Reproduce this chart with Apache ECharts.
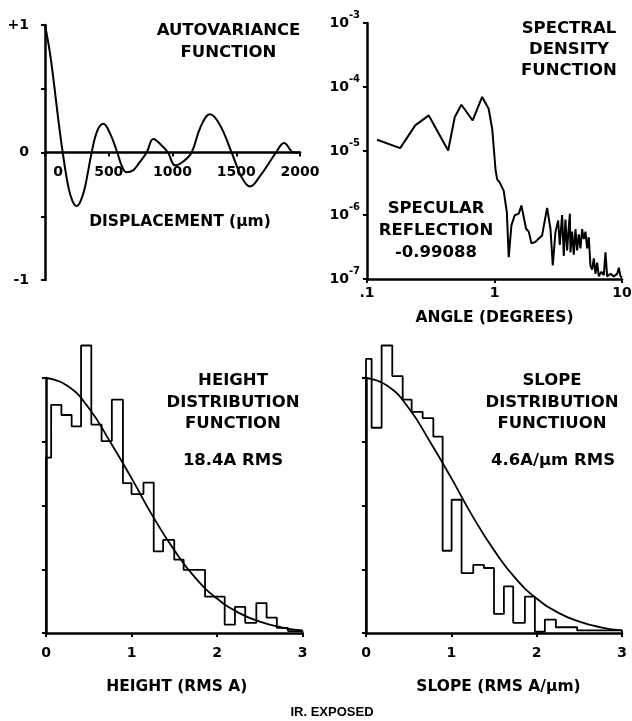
<!DOCTYPE html>
<html><head><meta charset="utf-8">
<script src="https://cdn.jsdelivr.net/npm/echarts/dist/echarts.min.js"></script>
<style>html,body{margin:0;padding:0;background:#fff}#c{width:632px;height:721px}</style>
</head><body><div id="c"></div>
<script>
// ---- Autovariance function ----
const dispX = [0, 39, 73, 104, 139, 183, 215, 248, 280, 314, 366, 410, 458, 510, 567, 600, 640, 690, 740, 797, 850, 910, 965, 1020, 1085, 1150, 1220, 1294, 1370, 1464, 1540, 1608, 1690, 1812, 1875, 1953, 2000];
const autoY = [1.0, 0.78, 0.52, 0.26, 0, -0.27, -0.38, -0.42, -0.38, -0.27, 0, 0.17, 0.225, 0.15, 0, -0.1, -0.155, -0.14, -0.08, 0, 0.105, 0.06, 0, -0.1, -0.07, 0, 0.2, 0.30, 0.22, 0, -0.19, -0.267, -0.18, 0, 0.074, 0, 0];
const autoYTicks = [-1, 0, 1];

// ---- Spectral density function ----
const specAngle = [0.120, 0.182, 0.239, 0.305, 0.433, 0.488, 0.55, 0.674, 0.80, 0.90, 0.96, 1.02, 1.05, 1.10, 1.18, 1.25, 1.293, 1.357, 1.441, 1.55, 1.626, 1.769, 1.857, 1.948, 2.094, 2.225, 2.362, 2.586, 2.747, 2.865, 3.006, 3.155, 3.251, 3.391, 3.494, 3.601, 3.711, 3.825, 3.90, 3.942, 4.062, 4.187, 4.315, 4.447, 4.584, 4.724, 4.868, 5.016, 5.170, 5.328, 5.490, 5.658, 5.832, 6.010, 6.194, 6.384, 6.579, 6.904, 7.201, 7.421, 7.648, 8.123, 8.628, 9.165, 9.443, 9.732, 10.0];
const specDensity = [1.50e-5, 1.11e-5, 2.51e-5, 3.6e-5, 1.02e-5, 3.39e-5, 5.28e-5, 3.0e-5, 6.98e-5, 4.58e-5, 2.2e-5, 5.0e-6, 3.6e-6, 3.2e-6, 2.4e-6, 1.1e-6, 2.2e-7, 6.9e-7, 9.9e-7, 1.05e-6, 1.41e-6, 6.1e-7, 5.5e-7, 3.6e-7, 3.8e-7, 4.3e-7, 4.8e-7, 1.29e-6, 6.1e-7, 1.63e-7, 5.4e-7, 8.2e-7, 3.4e-7, 1.0e-6, 2.3e-7, 8.5e-7, 2.8e-7, 6.5e-7, 1.05e-6, 2.6e-7, 5.5e-7, 2.4e-7, 6.0e-7, 2.8e-7, 5.0e-7, 3.0e-7, 6.0e-7, 4.2e-7, 5.5e-7, 3.0e-7, 4.5e-7, 1.6e-7, 1.4e-7, 2.1e-7, 1.2e-7, 1.8e-7, 1.1e-7, 1.3e-7, 1.15e-7, 2.6e-7, 1.1e-7, 1.2e-7, 1.1e-7, 1.2e-7, 1.5e-7, 1.1e-7, 1.05e-7];

// ---- Distribution functions (fitted curve) ----
const gaussX = [0, 0.25, 0.5, 0.75, 1.0, 1.25, 1.5, 1.75, 2.0, 2.25, 2.5, 2.75, 3.0];
const gaussY = [4.0, 3.88, 3.53, 3.0, 2.43, 1.83, 1.30, 0.86, 0.54, 0.32, 0.18, 0.09, 0.04];

const heightEdges = [0, 0.06, 0.18, 0.30, 0.41, 0.53, 0.65, 0.77, 0.90, 1.00, 1.14, 1.26, 1.37, 1.50, 1.61, 1.86, 2.09, 2.21, 2.33, 2.46, 2.58, 2.70, 2.83, 3.0];
const heightCounts = [2.75, 3.58, 3.42, 3.24, 4.51, 3.27, 3.01, 3.66, 2.35, 2.18, 2.36, 1.28, 1.46, 1.15, 0.99, 0.57, 0.13, 0.41, 0.16, 0.47, 0.24, 0.08, 0.03];

const slopeEdges = [0, 0.066, 0.183, 0.308, 0.43, 0.535, 0.664, 0.789, 0.898, 1.003, 1.12, 1.257, 1.382, 1.50, 1.616, 1.725, 1.862, 1.979, 2.096, 2.225, 2.474, 2.72, 3.0];
const slopeCounts = [4.30, 3.22, 4.51, 4.03, 3.66, 3.47, 3.37, 3.08, 1.29, 2.09, 0.94, 1.07, 1.02, 0.30, 0.73, 0.16, 0.57, 0.02, 0.21, 0.09, 0.04, 0.04];

function pairs(xs, ys) { return xs.map((x, i) => [x, ys[i]]); }
function steps(edges, counts) {
  const pts = [[edges[0], 0]];
  counts.forEach((c, i) => { pts.push([edges[i], c]); pts.push([edges[i + 1], c]); });
  pts.push([edges[edges.length - 1], 0]);
  return pts;
}

const FONT = 'DejaVu Sans';
const BLACK = '#000';
function axisBase(extra) {
  return Object.assign({
    nameMoveOverlap: false,
    axisLine: { show: true, onZero: false, lineStyle: { color: BLACK, width: 2.5 } },
    axisTick: { show: true, length: 4, lineStyle: { color: BLACK, width: 2 } },
    splitLine: { show: false },
    minorTick: { show: false },
    nameTextStyle: { color: BLACK, fontFamily: FONT, fontWeight: 'bold', fontSize: 15.5, lineHeight: 18 }
  }, extra);
}
const labelBase = { color: BLACK, fontFamily: FONT, fontWeight: 'bold', fontSize: 14 };

const titleStyle = { color: BLACK, fontFamily: FONT, fontWeight: 'bold', fontSize: 16.5 };
function ttl(text, x, y, lh, size) {
  return { text, left: x, top: y, padding: 0, textAlign: 'center',
    textStyle: Object.assign({}, titleStyle, { lineHeight: lh, fontSize: size || 16.5 }) };
}

const lineStyle = { color: BLACK, width: 2 };

const option = {
  backgroundColor: '#fff',
  animation: false,
  title: [
    ttl('AUTOVARIANCE\nFUNCTION', 228.5, 20, 21.5),
    ttl('SPECTRAL\nDENSITY\nFUNCTION', 569, 18, 21),
    ttl('SPECULAR\nREFLECTION\n-0.99088', 436, 198, 22),
    ttl('HEIGHT\nDISTRIBUTION\nFUNCTION', 233, 370, 21.5),
    ttl('18.4A RMS', 233, 450, 21.5),
    ttl('SLOPE\nDISTRIBUTION\nFUNCTIUON', 552, 370, 21.5),
    ttl('4.6A/\u03bcm RMS', 553, 450, 21.5),
    { text: 'IR. EXPOSED', left: 332, top: 704, padding: 0, textAlign: 'center',
      textStyle: { color: BLACK, fontFamily: 'Liberation Sans', fontWeight: 'bold', fontSize: 13, lineHeight: 16 } }
  ],
  grid: [
    { left: 45, top: 25, width: 255, height: 255, outerBoundsMode: 'none', containLabel: false },
    { left: 367, top: 23, width: 255, height: 256, outerBoundsMode: 'none', containLabel: false },
    { left: 46, top: 378, width: 256.5, height: 255, outerBoundsMode: 'none', containLabel: false },
    { left: 366, top: 378, width: 256, height: 255, outerBoundsMode: 'none', containLabel: false }
  ],
  xAxis: [
    axisBase({ gridIndex: 0, type: 'value', min: 0, max: 2000, interval: 500, offset: -127.5,
      name: 'DISPLACEMENT (\u03bcm)', nameLocation: 'middle', nameGap: 60,
      nameTextStyle: { color: BLACK, fontFamily: FONT, fontWeight: 'bold', fontSize: 15.5, lineHeight: 18, padding: [0, 0, 0, 15] },
      axisLabel: Object.assign({}, labelBase, { margin: 13,
        formatter: v => v === 0 ? '{z|0}' : String(v),
        rich: { z: { padding: [0, 0, 0, 26], fontFamily: FONT, fontWeight: 'bold', fontSize: 14, color: BLACK } } }) }),
    axisBase({ gridIndex: 1, type: 'log', logBase: 10, min: 0.1, max: 10,
      name: 'ANGLE (DEGREES)', nameLocation: 'middle', nameGap: 30,
      axisLabel: Object.assign({}, labelBase, { margin: 7, formatter: v => v < 1 ? '.1' : String(Math.round(v)) }) }),
    axisBase({ gridIndex: 2, type: 'value', min: 0, max: 3, interval: 1,
      name: 'HEIGHT (RMS A)', nameLocation: 'middle', nameGap: 45,
      nameTextStyle: { color: BLACK, fontFamily: FONT, fontWeight: 'bold', fontSize: 15.5, lineHeight: 18, padding: [0, 0, 0, 5] },
      axisLabel: Object.assign({}, labelBase, { margin: 13 }) }),
    axisBase({ gridIndex: 3, type: 'value', min: 0, max: 3, interval: 1,
      name: 'SLOPE (RMS A/\u03bcm)', nameLocation: 'middle', nameGap: 45,
      nameTextStyle: { color: BLACK, fontFamily: FONT, fontWeight: 'bold', fontSize: 15.5, lineHeight: 18, padding: [0, 0, 0, 9] },
      axisLabel: Object.assign({}, labelBase, { margin: 13 }) })
  ],
  yAxis: [
    axisBase({ gridIndex: 0, type: 'value', min: -1, max: 1, interval: 0.5,
      axisLabel: Object.assign({}, labelBase, { margin: 16,
        formatter: v => autoYTicks.indexOf(v) < 0 ? '' : (v > 0 ? '+' + v : String(v)) }) }),
    axisBase({ gridIndex: 1, type: 'log', logBase: 10, min: 1e-7, max: 1e-3,
      axisLabel: Object.assign({}, labelBase, { margin: 7,
        formatter: v => '{b|10}{s|' + Math.round(Math.log10(v)) + '}',
        rich: {
          b: { fontFamily: FONT, fontWeight: 'bold', fontSize: 14, lineHeight: 26, color: BLACK },
          s: { fontFamily: FONT, fontWeight: 'bold', fontSize: 10, lineHeight: 10, verticalAlign: 'top', color: BLACK }
        } }) }),
    axisBase({ gridIndex: 2, type: 'value', min: 0, max: 4, interval: 1, axisLabel: { show: false } }),
    axisBase({ gridIndex: 3, type: 'value', min: 0, max: 4, interval: 1, axisLabel: { show: false } })
  ],
  series: [
    { type: 'line', xAxisIndex: 0, yAxisIndex: 0, data: pairs(dispX, autoY), smooth: 0.4,
      showSymbol: false, symbol: 'none', lineStyle, clip: false },
    { type: 'line', xAxisIndex: 1, yAxisIndex: 1, data: pairs(specAngle, specDensity),
      showSymbol: false, symbol: 'none', lineStyle: { color: BLACK, width: 2 } },
    { type: 'line', xAxisIndex: 2, yAxisIndex: 2, data: steps(heightEdges, heightCounts),
      showSymbol: false, symbol: 'none', lineStyle: { color: BLACK, width: 1.8 }, clip: false },
    { type: 'line', xAxisIndex: 2, yAxisIndex: 2, data: pairs(gaussX, gaussY), smooth: true,
      showSymbol: false, symbol: 'none', lineStyle: { color: BLACK, width: 1.8 }, clip: false },
    { type: 'line', xAxisIndex: 3, yAxisIndex: 3, data: steps(slopeEdges, slopeCounts),
      showSymbol: false, symbol: 'none', lineStyle: { color: BLACK, width: 1.8 }, clip: false },
    { type: 'line', xAxisIndex: 3, yAxisIndex: 3, data: pairs(gaussX, gaussY), smooth: true,
      showSymbol: false, symbol: 'none', lineStyle: { color: BLACK, width: 1.8 }, clip: false }
  ]
};

const chart = echarts.init(document.getElementById('c'), null, { renderer: 'canvas' });
chart.setOption(option);
</script>
</body></html>
